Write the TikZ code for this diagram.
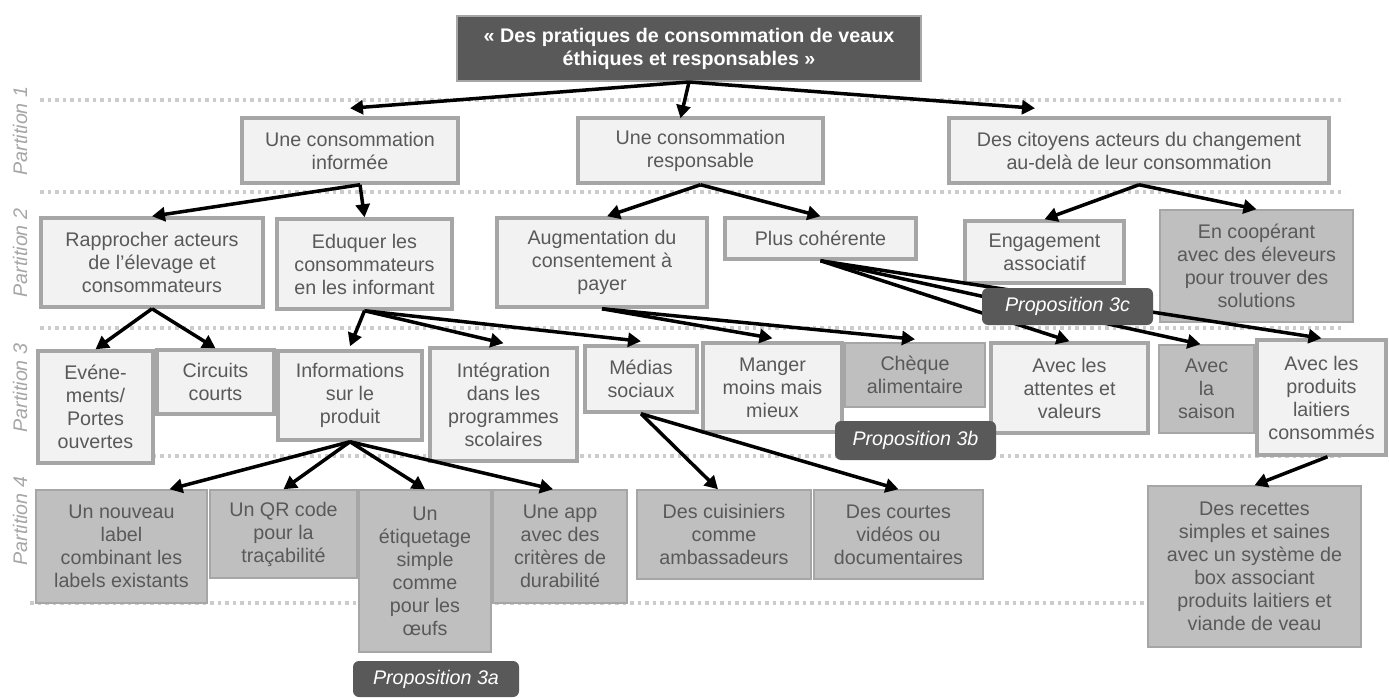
\documentclass[tikz,border=0pt]{standalone}
\usepackage{fontspec}
\setmainfont{Liberation Sans}
\usetikzlibrary{arrows.meta}
\definecolor{boxfill}{HTML}{F2F2F2}
\definecolor{boxline}{HTML}{A6A6A6}
\definecolor{darkfill}{HTML}{BFBFBF}
\definecolor{ink}{HTML}{595959}
\definecolor{dotline}{HTML}{CCCCCC}
\newcommand{\boxfont}{\fontsize{19.7}{23}\selectfont}

\begin{document}
\begin{tikzpicture}[x=1pt, y=-1pt,
    every node/.style={font=\boxfont, align=center, inner sep=2pt, text=ink},
    lightbox/.style={draw=boxline, fill=boxfill, line width=3.5pt},
    greybox/.style={draw=boxline, fill=darkfill, line width=1.5pt},
    headbox/.style={draw=boxline, fill=ink, line width=2pt, text=white, font=\boxfont\bfseries},
    propbox/.style={fill=ink, rounded corners=6pt, text=white, font=\boxfont\itshape},
    partlabel/.style={rotate=90, text=boxline, font=\boxfont\itshape},
    partline/.style={dotline, line width=3.5pt, dash pattern=on 3.5pt off 4pt},
    arr/.style={-{Triangle[length=13pt,width=14pt]}, line width=3.5pt, black}]
    \useasboundingbox (0,0) rectangle (1389,698);
    % partitions
    \foreach \yy in {100,192,328,456} \draw[partline] (40,\yy) -- (1345,\yy);
    \draw[partline] (30,603) -- (1345,603);
    \node[partlabel] (part1) at (20,131) {Partition 1};
    \node[partlabel] (part2) at (20,253) {Partition 2};
    \node[partlabel] (part3) at (20,388) {Partition 3};
    \node[partlabel] (part4) at (20,521) {Partition 4};
    % goal
    \node[headbox, minimum width=464pt, minimum height=65pt] (goal) at (689,48.5) {« Des pratiques de consommation de veaux\\éthiques et responsables »};
    % partition 1
    \node[lightbox, minimum width=216pt, minimum height=65pt] (inf) at (350,150.5) {Une consommation\\informée};
    \node[lightbox, minimum width=245pt, minimum height=65pt] (resp) at (700.5,150.5) {Une consommation\\responsable};
    \node[lightbox, minimum width=380pt, minimum height=65pt] (cit) at (1139,150.5) {Des citoyens acteurs du changement\\au-delà de leur consommation};
    % partition 2
    \node[lightbox, minimum width=222pt, minimum height=89pt] (rap) at (152,262.5) {Rapprocher acteurs\\de l’élevage et\\consommateurs};
    \node[lightbox, minimum width=175pt, minimum height=90pt] (edu) at (364.5,264) {Eduquer les\\consommateurs\\en les informant};
    \node[lightbox, minimum width=210pt, minimum height=89pt] (aug) at (602,262.5) {Augmentation du\\consentement à\\payer};
    \node[lightbox, minimum width=191pt, minimum height=41pt] (plus) at (820.5,238.5) {Plus cohérente};
    \node[lightbox, minimum width=159pt, minimum height=62pt] (eng) at (1044.5,252) {Engagement\\associatif};
    \node[greybox, minimum width=193pt, minimum height=112pt] (coop) at (1256.5,266) {En coopérant\\avec des éleveurs\\pour trouver des\\solutions};
    % partition 3
    \node[lightbox, minimum width=115pt, minimum height=112pt] (eve) at (95.5,407) {Evéne-\\ments/\\Portes\\ouvertes};
    \node[lightbox, minimum width=117pt, minimum height=64pt] (cir) at (215.5,382) {Circuits\\courts};
    \node[lightbox, minimum width=144pt, minimum height=89pt] (info) at (350,395.5) {Informations\\sur le\\produit};
    \node[lightbox, minimum width=147pt, minimum height=113pt] (int) at (503.5,404.5) {Intégration\\dans les\\programmes\\scolaires};
    \node[lightbox, minimum width=112pt, minimum height=66pt] (med) at (641,379) {Médias\\sociaux};
    \node[lightbox, minimum width=139pt, minimum height=89pt] (man) at (772.5,387.5) {Manger\\moins mais\\mieux};
    \node[greybox, minimum width=140pt, minimum height=64pt] (che) at (915,375) {Chèque\\alimentaire};
    \node[lightbox, minimum width=157pt, minimum height=90pt] (att) at (1069.5,388) {Avec les\\attentes et\\valeurs};
    \node[greybox, minimum width=95pt, minimum height=88pt] (sai) at (1206.5,389) {Avec\\la\\saison};
    \node[lightbox, minimum width=129pt, minimum height=115pt] (pro) at (1321.5,397.5) {Avec les\\produits\\laitiers\\consommés};
    % partition 4
    \node[greybox, minimum width=171pt, minimum height=113pt] (nouv) at (121.5,546.5) {Un nouveau\\label\\combinant les\\labels existants};
    \node[greybox, minimum width=147pt, minimum height=88pt] (qr) at (283.5,534) {Un QR code\\pour la\\traçabilité};
    \node[greybox, minimum width=132pt, minimum height=162pt] (eti) at (425,571) {Un\\étiquetage\\simple\\comme\\pour les\\œufs};
    \node[greybox, minimum width=134pt, minimum height=113pt] (app) at (560,546.5) {Une app\\avec des\\critères de\\durabilité};
    \node[greybox, minimum width=174pt, minimum height=89pt] (cui) at (724,534.5) {Des cuisiniers\\comme\\ambassadeurs};
    \node[greybox, minimum width=169pt, minimum height=89pt] (cou) at (898.5,534.5) {Des courtes\\vidéos ou\\documentaires};
    \node[greybox, minimum width=213pt, minimum height=161pt] (rec) at (1254.5,566.5) {Des recettes\\simples et saines\\avec un système de\\box associant\\produits laitiers et\\viande de veau};
    % arrows
    \draw[arr] (goal.south) -- ([yshift=8pt]inf.north);
    \draw[arr] (goal.south) -- ([xshift=-20pt,yshift=-2pt]resp.north);
    \draw[arr] (goal.south) -- ([xshift=-104pt,yshift=8pt]cit.north);
    \foreach \t in {rap,edu} \draw[arr] ([xshift=10pt]inf.south) -- (\t.north);
    \draw[arr] (resp.south) -- ([xshift=5pt]aug.north);
    \draw[arr] (resp.south) -- (plus.north);
    \foreach \t in {eng,coop} \draw[arr] (cit.south) -- (\t.north);
    \foreach \t in {eve,cir} \draw[arr] (rap.south) -- (\t.north);
    \foreach \t in {info,int,med} \draw[arr] (edu.south) -- ([yshift=3pt]\t.north);
    \foreach \t in {man,che} \draw[arr] (aug.south) -- ([yshift=3pt]\t.north);
    \draw[arr] (plus.south) -- (att.north);
    \draw[arr] (plus.south) -- ([xshift=-6pt]sai.north);
    \draw[arr] (plus.south) -- (pro.north);
    \draw[arr] (info.south) -- ([xshift=48pt]nouv.north);
    \foreach \t in {qr,eti} \draw[arr] (info.south) -- (\t.north);
    \draw[arr] (info.south) -- ([xshift=-7pt]app.north);
    \draw[arr] (med.south) -- ([xshift=-6pt]cui.north);
    \draw[arr] (med.south) -- (cou.north);
    \draw[arr] ([xshift=6pt]pro.south) -- (rec.north);
    % propositions
    \node[propbox, minimum width=171pt, minimum height=37pt] (p3c) at (1067.5,306.5) {Proposition 3c};
    \node[propbox, minimum width=161pt, minimum height=39pt] (p3b) at (915.5,440.5) {Proposition 3b};
    \node[propbox, minimum width=166pt, minimum height=36pt] (p3a) at (436,679) {Proposition 3a};
\end{tikzpicture}
\end{document}
